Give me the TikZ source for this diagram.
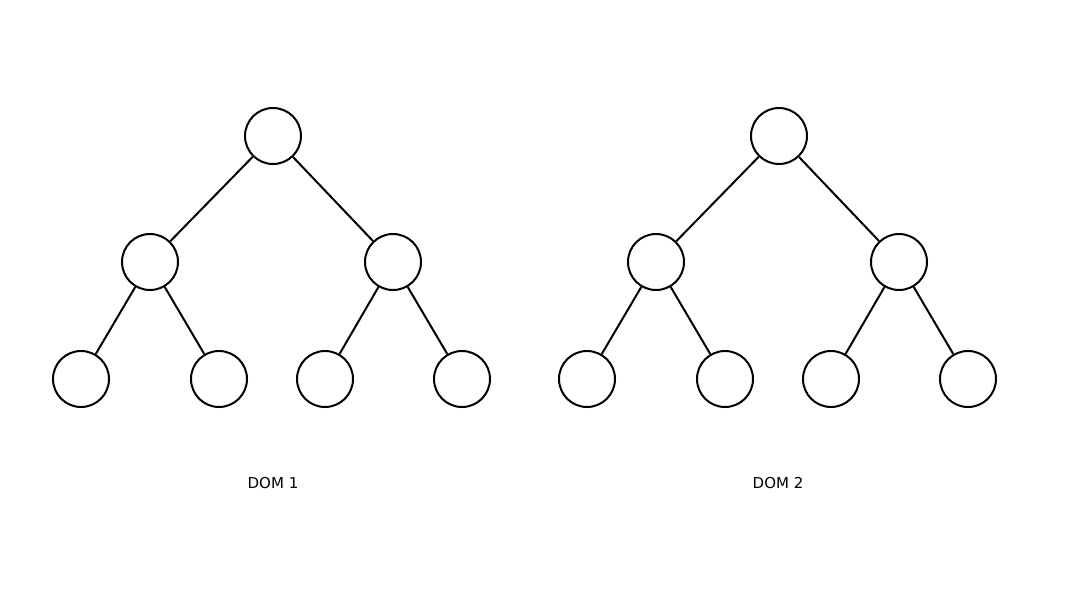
\documentclass[tikz,border=0pt]{standalone}
\usepackage{fontspec}
\setmainfont{DejaVu Sans}
\begin{document}
\begin{tikzpicture}[x=1pt,y=-1pt,
  tn/.style={circle,draw,line width=2pt,minimum size=56pt,inner sep=0pt},
  ed/.style={line width=2pt},
  lbl/.style={font=\fontsize{15}{18}\selectfont}]
\useasboundingbox (0,0) rectangle (1080,608);
\foreach \t/\dx in {a/0,b/506}{
  \node[tn] (\t r) at (273+\dx,136) {};
  \node[tn] (\t l) at (150+\dx,262) {};
  \node[tn] (\t m) at (393+\dx,262) {};
  \node[tn] (\t 1) at (81+\dx,379) {};
  \node[tn] (\t 2) at (219+\dx,379) {};
  \node[tn] (\t 3) at (325+\dx,379) {};
  \node[tn] (\t 4) at (462+\dx,379) {};
  \draw[ed] (\t r)--(\t l); \draw[ed] (\t r)--(\t m);
  \draw[ed] (\t l)--(\t 1); \draw[ed] (\t l)--(\t 2);
  \draw[ed] (\t m)--(\t 3); \draw[ed] (\t m)--(\t 4);
}
\node[lbl] (d1) at (273,483) {DOM 1};
\node[lbl] (d2) at (778,483) {DOM 2};
\end{tikzpicture}
\end{document}
